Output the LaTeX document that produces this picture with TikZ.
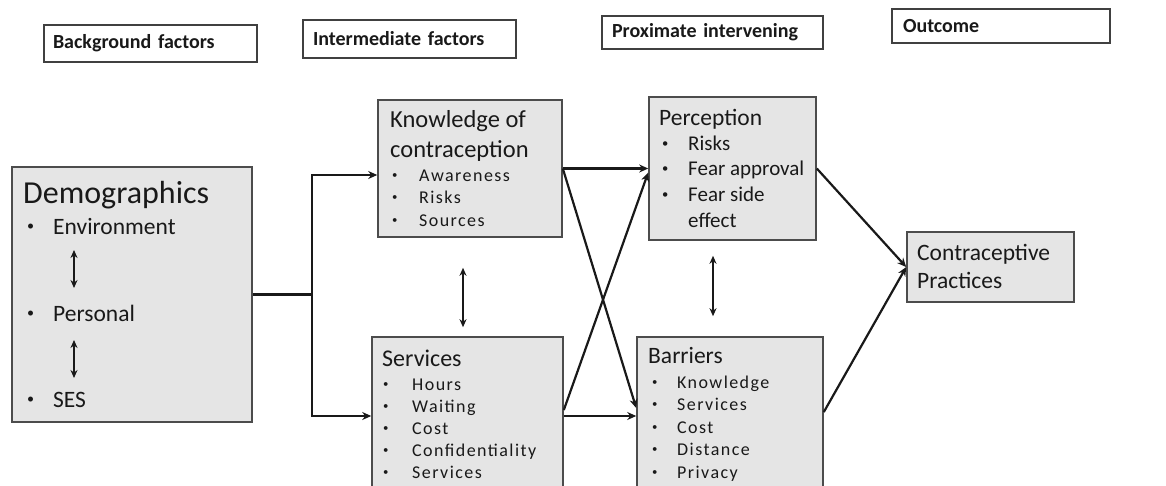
\documentclass[tikz,border=0pt]{standalone}
\usepackage{fontspec}
\setmainfont{Carlito}
\newfontfamily\spaced[LetterSpace=8]{Carlito}
\usetikzlibrary{positioning, calc, arrows.meta, shadows}

\newcommand{\bul}[1]{\makebox[#1pt][l]{\raisebox{0.14em}{\scalebox{0.6}{\textbullet}}}}

\tikzset{
  headbox/.style={draw=black!75, fill=white, line width=1.5pt, inner sep=0pt, align=left,
    text=black!90, font=\bfseries\fontsize{20}{24}\selectfont,
    drop shadow={shadow xshift=1pt, shadow yshift=-1pt, opacity=0.35}},
  box/.style={draw=black!70, fill=black!10, line width=1.6pt, inner sep=0pt,
    drop shadow={shadow xshift=1pt, shadow yshift=-1pt, opacity=0.3}},
  title/.style={anchor=base west, inner sep=0pt, align=left, text=black!90},
  item/.style={anchor=base west, inner sep=0pt, text=black!90},
  conn/.style={draw=black!90, line width=2.2pt},
  arr/.style={conn, -{Stealth[length=9pt,width=8pt]}},
  dbl/.style={conn, {Stealth[length=8pt,width=7pt]}-{Stealth[length=8pt,width=7pt]}}
}

\begin{document}
\begin{tikzpicture}[x=1pt,y=-1pt]
  \clip (0,0) rectangle (1166,485);

  % column headers
  \node[headbox, minimum width=213, minimum height=37, text width=195] (bg) at (150.5,43.5) {Background factors};
  \node[headbox, minimum width=213, minimum height=38, text width=193] (im) at (409.5,39) {Intermediate factors};
  \node[headbox, minimum width=221, minimum height=33, text width=201] (px) at (712.5,32.5) {Proximate intervening};
  \node[headbox, minimum width=218, minimum height=34, text width=196] (oc) at (1001,26) {Outcome};

  % grey boxes
  \node[box, minimum width=240, minimum height=255] (demo) at (132,294.5) {};
  \node[box, minimum width=184, minimum height=137] (know) at (470,168.5) {};
  \node[box, minimum width=191, minimum height=158] (serv) at (467.5,416) {};
  \node[box, minimum width=167, minimum height=143] (perc) at (732.5,168.5) {};
  \node[box, minimum width=186, minimum height=158] (barr) at (730,416) {};
  \node[box, minimum width=167, minimum height=70] (cont) at (990.5,267) {};

  % demographics
  \node[title, font=\fontsize{32}{38}\selectfont] (demotitle) at (23,203) {Demographics};
  \foreach \t/\y in {Environment/234, Personal/321, SES/407}
    \node[item, font=\fontsize{23.5}{28}\selectfont] (d\t) at (27,\y) {\bul{26}\t};
  \draw[dbl] ([xshift=47pt,yshift=-16pt]dEnvironment.base west) -- ([xshift=47pt,yshift=33pt]dPersonal.base west);
  \draw[dbl] ([xshift=47pt,yshift=-19pt]dPersonal.base west) -- ([xshift=47pt,yshift=29pt]dSES.base west);

  % knowledge
  \node[title, font=\fontsize{24.5}{30}\selectfont] (knowtitle) at (390,157) {Knowledge of\\contraception};
  \foreach \t [count=\i] in {Awareness, Risks, Sources}
    \node[item, font=\spaced\fontsize{18}{22}\selectfont] (k\i) at (392,181+22.5*\i-22.5) {\bul{27}\t};

  % services
  \node[title, font=\fontsize{24}{30}\selectfont] (servtitle) at (382,366) {Services};
  \foreach \t [count=\i] in {Hours, Waiting, Cost, Confidentiality, Services}
    \node[item, font=\spaced\fontsize{18}{22}\selectfont] (s\i) at (383,390+22*\i-22) {\bul{29}\t};

  % perception
  \node[title, font=\fontsize{23.5}{30}\selectfont] (perctitle) at (659,125) {Perception};
  \foreach \t [count=\i] in {Risks, Fear approval, Fear side}
    \node[item, font=\fontsize{21}{26}\selectfont] (p\i) at (662,150+25.7*\i-25.7) {\bul{26}\t};
  \node[item, font=\fontsize{21}{26}\selectfont] (p4) at (688,227) {effect};

  % barriers
  \node[title, font=\fontsize{23.5}{30}\selectfont] (barrtitle) at (648,363) {Barriers};
  \foreach \t [count=\i] in {Knowledge, Services, Cost, Distance, Privacy}
    \node[item, font=\spaced\fontsize{18}{22}\selectfont] (b\i) at (652,388+22.5*\i-22.5) {\bul{25}\t};

  % outcome
  \node[title, font=\fontsize{23.5}{28}\selectfont] (conttitle) at (917,288) {Contraceptive\\Practices};

  % connectors
  \coordinate (split) at (312,294.5);
  \draw[conn] (demo.east) -- (split);
  \draw[arr] (split) |- ([yshift=-6.5pt]know.west);
  \draw[arr] (split) |- (serv.west);
  \draw[dbl] ([xshift=-7pt,yshift=-30pt]know.south) -- ([xshift=-4.5pt,yshift=9pt]serv.north);
  \draw[dbl] ([xshift=-19.5pt,yshift=-15pt]perc.south) -- ([xshift=-17pt,yshift=20pt]barr.north);
  \draw[arr] (know.east) -- (perc.west);
  \draw[arr] (know.east) -- ([yshift=8pt]barr.west);
  \draw[arr] ([yshift=6pt]serv.east) -- ([yshift=-4pt]perc.west);
  \draw[arr] (serv.east) -- (barr.west);
  \draw[arr] (perc.east) -- (cont.west);
  \draw[arr] ([yshift=4pt]barr.east) -- (cont.west);
\end{tikzpicture}
\end{document}
